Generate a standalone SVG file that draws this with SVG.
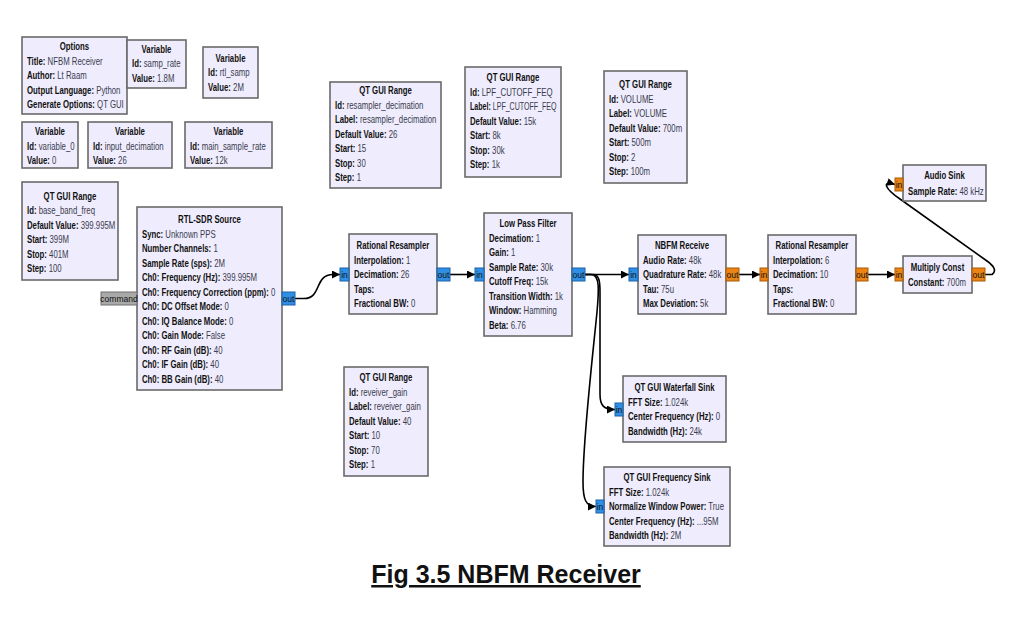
<svg xmlns="http://www.w3.org/2000/svg" width="1022" height="617" viewBox="0 0 1022 617">
<style>
.blk{fill:#efedfd;stroke:#6a6a6a;stroke-width:1.6}
.t text{font-family:"Liberation Sans",Arial,sans-serif;font-size:10px;fill:#3b3b4e}
.t .b{font-weight:bold;fill:#111}
.t .ti{font-weight:bold;fill:#111;text-anchor:middle}
.pb{fill:#2f8fe4;stroke:#1d62a6;stroke-width:1}
.po{fill:#ec8414;stroke:#a95a06;stroke-width:1}
.pg{fill:#a9a9a9;stroke:#707070;stroke-width:1}
.pt{font-family:"Liberation Sans",Arial,sans-serif;font-size:8.5px;fill:#111;text-anchor:middle}
.wire{fill:none;stroke:#000;stroke-width:1.6;marker-end:url(#arr)}
.cap{font-family:"Liberation Sans",Arial,sans-serif;font-size:25px;font-weight:bold;fill:#111;text-anchor:middle;text-decoration:underline}
</style>
<defs>
<marker id="arr" viewBox="0 0 10 10" refX="10" refY="5" markerWidth="9" markerHeight="8" markerUnits="userSpaceOnUse" orient="auto"><path d="M0,0 L10,5 L0,10 z" fill="#000"/></marker>
</defs>
<rect width="1022" height="617" fill="#fff"/>

<g id="connectors">
<path class="wire" d="M295,298.5 H304 C322,298.5 314,274.5 333,274.5 H340"/>
<path class="wire" d="M450,274.5 H475"/>
<path class="wire" d="M585,274.5 H629"/>
<path class="wire" d="M585,274.5 H593 C599,274.5 600,281 600,292 V394 C600,405 603,409.5 615,409.5"/>
<path class="wire" d="M585,274.5 H591 C600,274.5 599,290 597,312 C591,372 583,440 583,482 C583,500 586,506.5 596,506.5"/>
<path class="wire" d="M739,274.5 H760"/>
<path class="wire" d="M868,274.5 H895"/>
<path class="wire" d="M985,274.5 H992 C997,271 994,266 987,261 L900,199 C885,189 881,180 895,184.5"/>
</g>

<g id="options" transform="translate(22,37)"><rect class="blk" width="105" height="77"/>
<g class="t" transform="scale(0.78,1)">
<text class="ti" x="67.3" y="13.5">Options</text>
<text x="6.4" y="28"><tspan class="b">Title:</tspan> NFBM Receiver</text>
<text x="6.4" y="42.5"><tspan class="b">Author:</tspan> Lt Raam</text>
<text x="6.4" y="57"><tspan class="b">Output Language:</tspan> Python</text>
<text x="6.4" y="71.5"><tspan class="b">Generate Options:</tspan> QT GUI</text>
</g></g>

<g id="var_samp_rate" transform="translate(127,40)"><rect class="blk" width="59" height="48"/>
<g class="t" transform="scale(0.78,1)">
<text class="ti" x="37.8" y="13.5">Variable</text>
<text x="6.4" y="27.5"><tspan class="b">Id:</tspan> samp_rate</text>
<text x="6.4" y="42"><tspan class="b">Value:</tspan> 1.8M</text>
</g></g>

<g id="var_rtl_samp" transform="translate(203,47)"><rect class="blk" width="55" height="51"/>
<g class="t" transform="scale(0.78,1)">
<text class="ti" x="35.3" y="15.5">Variable</text>
<text x="6.4" y="29.5"><tspan class="b">Id:</tspan> rtl_samp</text>
<text x="6.4" y="44"><tspan class="b">Value:</tspan> 2M</text>
</g></g>

<g id="var_variable_0" transform="translate(22,122)"><rect class="blk" width="56" height="46"/>
<g class="t" transform="scale(0.78,1)">
<text class="ti" x="35.9" y="13.5">Variable</text>
<text x="6.4" y="28"><tspan class="b">Id:</tspan> variable_0</text>
<text x="6.4" y="42.5"><tspan class="b">Value:</tspan> 0</text>
</g></g>

<g id="var_input_decimation" transform="translate(88,122)"><rect class="blk" width="84" height="46"/>
<g class="t" transform="scale(0.78,1)">
<text class="ti" x="53.8" y="13.5">Variable</text>
<text x="6.4" y="28"><tspan class="b">Id:</tspan> input_decimation</text>
<text x="6.4" y="42.5"><tspan class="b">Value:</tspan> 26</text>
</g></g>

<g id="var_main_sample_rate" transform="translate(185,122)"><rect class="blk" width="87" height="46"/>
<g class="t" transform="scale(0.78,1)">
<text class="ti" x="55.8" y="13.5">Variable</text>
<text x="6.4" y="28"><tspan class="b">Id:</tspan> main_sample_rate</text>
<text x="6.4" y="42.5"><tspan class="b">Value:</tspan> 12k</text>
</g></g>

<g id="range_base_band_freq" transform="translate(22,182)"><rect class="blk" width="96" height="98"/>
<g class="t" transform="scale(0.78,1)">
<text class="ti" x="61.5" y="18.5">QT GUI Range</text>
<text x="6.4" y="32.5"><tspan class="b">Id:</tspan> base_band_freq</text>
<text x="6.4" y="47"><tspan class="b">Default Value:</tspan> 399.995M</text>
<text x="6.4" y="61.5"><tspan class="b">Start:</tspan> 399M</text>
<text x="6.4" y="76"><tspan class="b">Stop:</tspan> 401M</text>
<text x="6.4" y="90.5"><tspan class="b">Step:</tspan> 100</text>
</g></g>

<g id="rtlsdr_source" transform="translate(137,207)"><rect class="blk" width="145" height="183"/>
<g class="t" transform="scale(0.78,1)">
<text class="ti" x="92.9" y="16.5">RTL-SDR Source</text>
<text x="6.4" y="31"><tspan class="b">Sync:</tspan> Unknown PPS</text>
<text x="6.4" y="45.5"><tspan class="b">Number Channels:</tspan> 1</text>
<text x="6.4" y="60"><tspan class="b">Sample Rate (sps):</tspan> 2M</text>
<text x="6.4" y="74.5"><tspan class="b">Ch0: Frequency (Hz):</tspan> 399.995M</text>
<text x="6.4" y="89"><tspan class="b">Ch0: Frequency Correction (ppm):</tspan> 0</text>
<text x="6.4" y="103.5"><tspan class="b">Ch0: DC Offset Mode:</tspan> 0</text>
<text x="6.4" y="118"><tspan class="b">Ch0: IQ Balance Mode:</tspan> 0</text>
<text x="6.4" y="132.5"><tspan class="b">Ch0: Gain Mode:</tspan> False</text>
<text x="6.4" y="147"><tspan class="b">Ch0: RF Gain (dB):</tspan> 40</text>
<text x="6.4" y="161.5"><tspan class="b">Ch0: IF Gain (dB):</tspan> 40</text>
<text x="6.4" y="176"><tspan class="b">Ch0: BB Gain (dB):</tspan> 40</text>
</g>
<rect class="pg" x="-36" y="85" width="36" height="13"/><text class="pt" x="-18" y="94.5" font-size="8px">command</text>
<rect class="pb" x="145" y="85" width="13" height="13"/><text class="pt" x="151.5" y="94.5">out</text>
</g>

<g id="rational_resampler_1" transform="translate(349,234)"><rect class="blk" width="88" height="80"/>
<g class="t" transform="scale(0.78,1)">
<text class="ti" x="56.4" y="15.5">Rational Resampler</text>
<text x="6.4" y="30"><tspan class="b">Interpolation:</tspan> 1</text>
<text x="6.4" y="44.5"><tspan class="b">Decimation:</tspan> 26</text>
<text x="6.4" y="59"><tspan class="b">Taps:</tspan></text>
<text x="6.4" y="73.5"><tspan class="b">Fractional BW:</tspan> 0</text>
</g>
<rect class="pb" x="-9" y="34" width="9" height="13"/><text class="pt" x="-4.5" y="43.5">in</text>
<rect class="pb" x="88" y="34" width="13" height="13"/><text class="pt" x="94.5" y="43.5">out</text>
</g>

<g id="low_pass_filter" transform="translate(484,213)"><rect class="blk" width="88" height="123"/>
<g class="t" transform="scale(0.78,1)">
<text class="ti" x="56.4" y="14.5">Low Pass Filter</text>
<text x="6.4" y="29"><tspan class="b">Decimation:</tspan> 1</text>
<text x="6.4" y="43.5"><tspan class="b">Gain:</tspan> 1</text>
<text x="6.4" y="58"><tspan class="b">Sample Rate:</tspan> 30k</text>
<text x="6.4" y="72.5"><tspan class="b">Cutoff Freq:</tspan> 15k</text>
<text x="6.4" y="87"><tspan class="b">Transition Width:</tspan> 1k</text>
<text x="6.4" y="101.5"><tspan class="b">Window:</tspan> Hamming</text>
<text x="6.4" y="116"><tspan class="b">Beta:</tspan> 6.76</text>
</g>
<rect class="pb" x="-9" y="55" width="9" height="13"/><text class="pt" x="-4.5" y="64.5">in</text>
<rect class="pb" x="88" y="55" width="13" height="13"/><text class="pt" x="94.5" y="64.5">out</text>
</g>

<g id="nbfm_receive" transform="translate(638,235)"><rect class="blk" width="88" height="79"/>
<g class="t" transform="scale(0.78,1)">
<text class="ti" x="56.4" y="14.5">NBFM Receive</text>
<text x="6.4" y="29"><tspan class="b">Audio Rate:</tspan> 48k</text>
<text x="6.4" y="43.5"><tspan class="b">Quadrature Rate:</tspan> 48k</text>
<text x="6.4" y="58"><tspan class="b">Tau:</tspan> 75u</text>
<text x="6.4" y="72.5"><tspan class="b">Max Deviation:</tspan> 5k</text>
</g>
<rect class="pb" x="-9" y="33" width="9" height="13"/><text class="pt" x="-4.5" y="42.5">in</text>
<rect class="po" x="88" y="33" width="13" height="13"/><text class="pt" x="94.5" y="42.5">out</text>
</g>

<g id="rational_resampler_2" transform="translate(768,235)"><rect class="blk" width="88" height="79"/>
<g class="t" transform="scale(0.78,1)">
<text class="ti" x="56.4" y="14.5">Rational Resampler</text>
<text x="6.4" y="29"><tspan class="b">Interpolation:</tspan> 6</text>
<text x="6.4" y="43.5"><tspan class="b">Decimation:</tspan> 10</text>
<text x="6.4" y="58"><tspan class="b">Taps:</tspan></text>
<text x="6.4" y="72.5"><tspan class="b">Fractional BW:</tspan> 0</text>
</g>
<rect class="po" x="-8" y="33" width="8" height="13"/><text class="pt" x="-4" y="42.5">in</text>
<rect class="po" x="88" y="33" width="12" height="13"/><text class="pt" x="94" y="42.5">out</text>
</g>

<g id="multiply_const" transform="translate(903,256)"><rect class="blk" width="69" height="37"/>
<g class="t" transform="scale(0.78,1)">
<text class="ti" x="44.2" y="15.5">Multiply Const</text>
<text x="6.4" y="30.5"><tspan class="b">Constant:</tspan> 700m</text>
</g>
<rect class="po" x="-8" y="12" width="8" height="13"/><text class="pt" x="-4" y="21.5">in</text>
<rect class="po" x="69" y="12" width="13" height="13"/><text class="pt" x="75.5" y="21.5">out</text>
</g>

<g id="audio_sink" transform="translate(903,165)"><rect class="blk" width="83" height="36"/>
<g class="t" transform="scale(0.78,1)">
<text class="ti" x="53.2" y="14.5">Audio Sink</text>
<text x="6.4" y="30.5"><tspan class="b">Sample Rate:</tspan> 48 kHz</text>
</g>
<rect class="po" x="-8" y="13" width="8" height="13"/><text class="pt" x="-4" y="22.5">in</text>
</g>

<g id="range_resampler_decimation" transform="translate(330,82)"><rect class="blk" width="111" height="106"/>
<g class="t" transform="scale(0.78,1)">
<text class="ti" x="71.2" y="12.5">QT GUI Range</text>
<text x="6.4" y="27"><tspan class="b">Id:</tspan> resampler_decimation</text>
<text x="6.4" y="41.5" textLength="130" lengthAdjust="spacingAndGlyphs"><tspan class="b">Label:</tspan> resampler_decimation</text>
<text x="6.4" y="56"><tspan class="b">Default Value:</tspan> 26</text>
<text x="6.4" y="70.5"><tspan class="b">Start:</tspan> 15</text>
<text x="6.4" y="85"><tspan class="b">Stop:</tspan> 30</text>
<text x="6.4" y="99.5"><tspan class="b">Step:</tspan> 1</text>
</g></g>

<g id="range_lpf_cutoff" transform="translate(465,67)"><rect class="blk" width="96" height="110"/>
<g class="t" transform="scale(0.78,1)">
<text class="ti" x="61.5" y="14.5">QT GUI Range</text>
<text x="6.4" y="29" textLength="106" lengthAdjust="spacingAndGlyphs"><tspan class="b">Id:</tspan> LPF_CUTOFF_FEQ</text>
<text x="6.4" y="43.5" textLength="111" lengthAdjust="spacingAndGlyphs"><tspan class="b">Label:</tspan> LPF_CUTOFF_FEQ</text>
<text x="6.4" y="58"><tspan class="b">Default Value:</tspan> 15k</text>
<text x="6.4" y="72.5"><tspan class="b">Start:</tspan> 8k</text>
<text x="6.4" y="87"><tspan class="b">Stop:</tspan> 30k</text>
<text x="6.4" y="101.5"><tspan class="b">Step:</tspan> 1k</text>
</g></g>

<g id="range_volume" transform="translate(604,71)"><rect class="blk" width="83" height="112"/>
<g class="t" transform="scale(0.78,1)">
<text class="ti" x="53.2" y="17.5">QT GUI Range</text>
<text x="6.4" y="32"><tspan class="b">Id:</tspan> VOLUME</text>
<text x="6.4" y="46.5"><tspan class="b">Label:</tspan> VOLUME</text>
<text x="6.4" y="61"><tspan class="b">Default Value:</tspan> 700m</text>
<text x="6.4" y="75.5"><tspan class="b">Start:</tspan> 500m</text>
<text x="6.4" y="90"><tspan class="b">Stop:</tspan> 2</text>
<text x="6.4" y="104.5"><tspan class="b">Step:</tspan> 100m</text>
</g></g>

<g id="range_reveiver_gain" transform="translate(344,367)"><rect class="blk" width="84" height="109"/>
<g class="t" transform="scale(0.78,1)">
<text class="ti" x="53.8" y="14.5">QT GUI Range</text>
<text x="6.4" y="29"><tspan class="b">Id:</tspan> reveiver_gain</text>
<text x="6.4" y="43.5"><tspan class="b">Label:</tspan> reveiver_gain</text>
<text x="6.4" y="58"><tspan class="b">Default Value:</tspan> 40</text>
<text x="6.4" y="72.5"><tspan class="b">Start:</tspan> 10</text>
<text x="6.4" y="87"><tspan class="b">Stop:</tspan> 70</text>
<text x="6.4" y="101.5"><tspan class="b">Step:</tspan> 1</text>
</g></g>

<g id="waterfall_sink" transform="translate(623,376)"><rect class="blk" width="103" height="66"/>
<g class="t" transform="scale(0.78,1)">
<text class="ti" x="66" y="15.5">QT GUI Waterfall Sink</text>
<text x="6.4" y="30"><tspan class="b">FFT Size:</tspan> 1.024k</text>
<text x="6.4" y="44.5"><tspan class="b">Center Frequency (Hz):</tspan> 0</text>
<text x="6.4" y="59"><tspan class="b">Bandwidth (Hz):</tspan> 24k</text>
</g>
<rect class="pb" x="-8" y="27" width="8" height="13"/><text class="pt" x="-4" y="36.5">in</text>
</g>

<g id="frequency_sink" transform="translate(604,467)"><rect class="blk" width="126" height="79"/>
<g class="t" transform="scale(0.78,1)">
<text class="ti" x="80.8" y="14.5">QT GUI Frequency Sink</text>
<text x="6.4" y="29"><tspan class="b">FFT Size:</tspan> 1.024k</text>
<text x="6.4" y="43.5"><tspan class="b">Normalize Window Power:</tspan> True</text>
<text x="6.4" y="58"><tspan class="b">Center Frequency (Hz):</tspan> ...95M</text>
<text x="6.4" y="72.5"><tspan class="b">Bandwidth (Hz):</tspan> 2M</text>
</g>
<rect class="pb" x="-8" y="33" width="8" height="13"/><text class="pt" x="-4" y="42.5">in</text>
</g>

<text class="cap" x="506" y="583">Fig 3.5 NBFM Receiver</text>
</svg>
